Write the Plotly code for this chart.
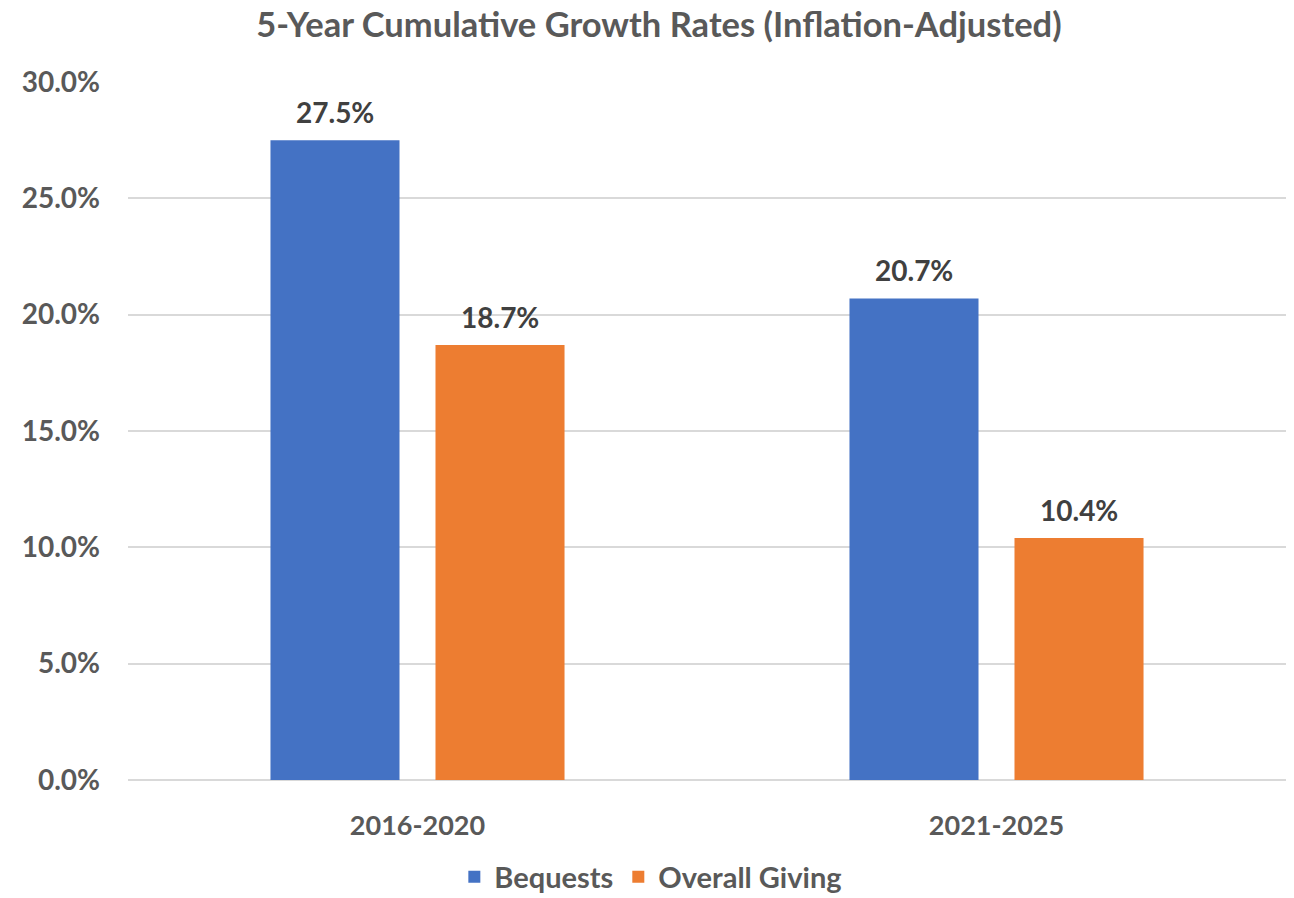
"""Grouped bars: 5-year cumulative growth, bequests vs overall giving."""

import plotly.graph_objects as go

periods = ["2016-2020", "2021-2025"]
bequests = [27.5, 20.7]
overall_giving = [18.7, 10.4]
series_names = ["Bequests", "Overall Giving"]
tick_vals = [0, 5, 10, 15, 20, 25, 30]
tick_text = ["0.0%", "5.0%", "10.0%", "15.0%", "20.0%", "25.0%", "30.0%"]

FONT = "Lato"
GRAY = "#595959"
LABEL = "#404040"
BLUE = "#4472C4"
ORANGE = "#ED7D31"

# layout geometry (pixels); page body adds an 8px offset and the bottom is cropped,
# so the figure is taller than the window to leave the legend room
W, H = 1294, 940
M = {"l": 120, "r": 16, "t": 74, "b": 168}
BARGAP = 0.43
GROUPGAP = 0.218

fig = go.Figure()
for name, vals, color in zip(series_names, [bequests, overall_giving], [BLUE, ORANGE]):
    fig.add_trace(go.Bar(x=periods, y=vals, name=f"<b>{name}</b>",
                         marker={"color": color, "line": {"width": 0}}))

# value labels above each bar
plot_w = W - M["l"] - M["r"]
plot_h = H - M["t"] - M["b"]
slot = plot_w / len(periods) * (1 - BARGAP) / 2
for i, vals in enumerate([bequests, overall_giving]):
    shift = (i - 0.5) * slot
    for p, v in zip(periods, vals):
        fig.add_annotation(
            x=p, y=v, text=f"<b>{v:.1f}%</b>", showarrow=False,
            xshift=shift, yshift=9, yanchor="bottom",
            font={"family": FONT, "size": 28, "color": LABEL},
        )

fig.update_layout(
    width=W, height=H,
    margin=M,
    barmode="group", bargap=BARGAP, bargroupgap=GROUPGAP,
    plot_bgcolor="white", paper_bgcolor="white",
    font={"family": FONT, "color": GRAY},
    title={
        "text": "<b>5-Year Cumulative Growth Rates (Inflation-Adjusted)</b>",
        "x": 0.503, "xanchor": "center", "y": 1 - 17 / H, "yanchor": "middle",
        "font": {"family": FONT, "size": 34.5, "color": GRAY},
    },
    xaxis={
        "tickfont": {"family": FONT, "size": 27, "color": GRAY},
        "showgrid": False, "showline": False, "ticks": "",
        "tickprefix": "<b>", "ticksuffix": "</b>",
        "ticklabelstandoff": 27,
    },
    yaxis={
        "range": [0, 30], "tickvals": tick_vals,
        "ticktext": [f"<b>{t}</b>" for t in tick_text],
        "tickfont": {"family": FONT, "size": 28, "color": GRAY},
        "showgrid": True, "gridcolor": "#D9D9D9", "gridwidth": 1.5,
        "zeroline": True, "zerolinecolor": "#D9D9D9", "zerolinewidth": 1.5,
        "showline": False, "ticks": "", "ticklabelstandoff": 27,
    },
    legend={
        "orientation": "h", "x": 0.4515, "xanchor": "center",
        "y": -97 / plot_h, "yanchor": "middle",
        "font": {"family": FONT, "size": 29, "color": GRAY},
    },
    showlegend=True,
)

fig.write_html("out.html")
